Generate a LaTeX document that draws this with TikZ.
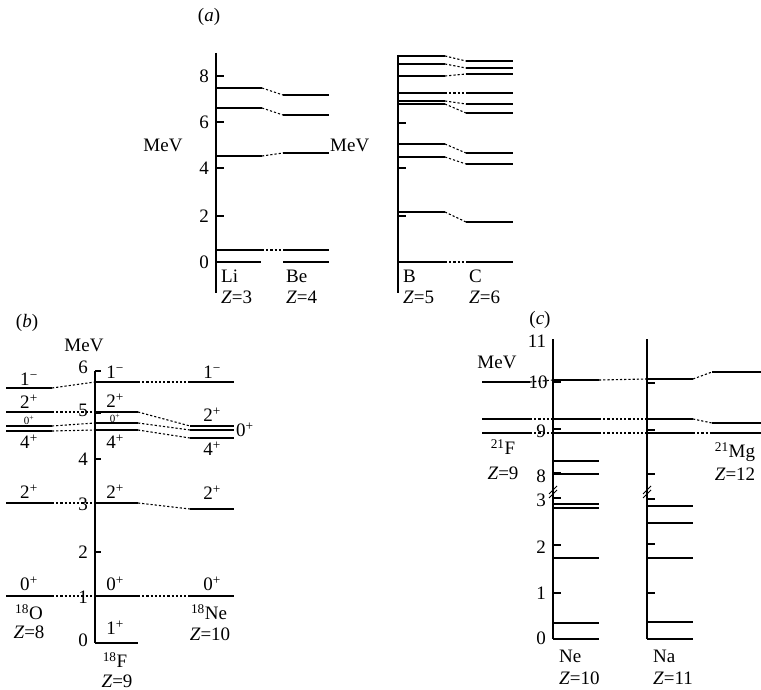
\documentclass[tikz,border=0pt]{standalone}
\usepackage{fontspec}
\setmainfont{Liberation Serif}
\newcommand{\lev}[4]{\coordinate (#1l) at (#2,#4); \coordinate (#1r) at (#3,#4); \draw[lvl] (#1l) -- (#1r);}
\newcommand{\mn}{\char"2212}
\begin{document}
\begin{tikzpicture}[x=1pt,y=-1pt,
 lvl/.style={line width=1.2pt},
 ax/.style={line width=1.3pt},
 con/.style={line width=1.1pt, dash pattern=on 2.2pt off 2pt},
 lab/.style={font=\fontsize{19}{19}\selectfont, inner sep=0pt},
 tinylab/.style={font=\fontsize{11}{11}\selectfont, inner sep=0pt}]
\useasboundingbox (0,0) rectangle (761,690);

% ---------------- (a) ----------------
\node[lab] (pa) at (209,17) {(\textit{a})};
\draw[ax] (216,53) -- (216,293);
\foreach \y in {76,122,168,216} \draw[ax] (216,\y) -- ++(8,0);
\node[lab,anchor=east] (a8) at (209,76) {8};
\node[lab,anchor=east] (a6) at (209,122) {6};
\node[lab,anchor=east] (a4) at (209,168) {4};
\node[lab,anchor=east] (a2) at (209,216) {2};
\node[lab,anchor=east] (a0) at (209,262) {0};
\node[lab] (mevl) at (163,145) {MeV};
\lev{lia}{216}{261}{262}
\lev{lib}{216}{262}{250}
\lev{lic}{216}{262}{156}
\lev{lid}{216}{262}{108}
\lev{lie}{216}{262}{88}
\lev{bea}{283}{329}{262}
\lev{beb}{283}{329}{250}
\lev{bec}{283}{329}{153}
\lev{bed}{283}{329}{115}
\lev{bee}{283}{329}{95}
\foreach \n in {b,c,d,e} \draw[con] (li\n r) -- (be\n l);
\node[lab,anchor=base west] (mevr) at (330,152) {MeV};
\node[lab,anchor=west] (li) at (221,276) {Li};
\node[lab,anchor=west] (z3) at (221,297) {\textit{Z}=3};
\node[lab,anchor=west] (be) at (286,276) {Be};
\node[lab,anchor=west] (z4) at (286,297) {\textit{Z}=4};

\draw[ax] (398,55) -- (398,293);
\foreach \y in {76,123,168,216} \draw[ax] (398,\y) -- ++(8,0);
\lev{ba}{398}{445}{262}
\lev{bb}{398}{445}{212}
\lev{bc}{398}{445}{157}
\lev{bd}{398}{445}{144}
\lev{bx}{398}{445}{104}
\lev{bf}{398}{445}{101}
\lev{bg}{398}{445}{93}
\lev{bh}{398}{445}{76}
\lev{bi}{398}{445}{64}
\lev{bj}{398}{445}{56}
\lev{ca}{466}{513}{262}
\lev{cb}{466}{513}{222}
\lev{cc}{466}{513}{164}
\lev{cd}{466}{513}{153}
\lev{cx}{466}{513}{113}
\lev{cf}{466}{513}{104}
\lev{cg}{466}{513}{93}
\lev{ch}{466}{513}{74}
\lev{ci}{466}{513}{68}
\lev{cj}{466}{513}{61}
\foreach \n in {a,b,c,d,x,f,g,h,i,j} \draw[con] (b\n r) -- (c\n l);
\node[lab,anchor=west] (bor) at (403,276) {B};
\node[lab,anchor=west] (z5) at (403,297) {\textit{Z}=5};
\node[lab,anchor=west] (car) at (469,276) {C};
\node[lab,anchor=west] (z6) at (469,297) {\textit{Z}=6};

% ---------------- (b) ----------------
\node[lab] (pb) at (27,323) {(\textit{b})};
\node[lab] (mevb) at (84,345) {MeV};
\draw[ax] (95,371) -- (95,643);
\foreach \y in {371,413,459,503,552,596} \draw[ax] (95,\y) -- ++(6,0);
\node[lab] (b6) at (83,367) {6};
\node[lab] (b5) at (83,410) {5};
\node[lab] (b4) at (83,459) {4};
\node[lab] (b3) at (83,504) {3};
\node[lab] (b2) at (83,552) {2};
\node[lab] (b1) at (83,597) {1};
\node[lab] (b0) at (83,640) {0};
% 18O
\lev{oa}{6}{52}{596}
\lev{ob}{6}{52}{503}
\lev{oc}{6}{52}{431}
\lev{od}{6}{52}{426}
\lev{oe}{6}{52}{412}
\lev{of}{6}{52}{388}
% 18F
\lev{fg}{95}{138}{643}
\lev{fa}{95}{138}{596}
\lev{fb}{95}{138}{503}
\lev{fc}{95}{138}{430}
\lev{fd}{95}{138}{423}
\lev{fe}{95}{138}{412}
\lev{ff}{95}{138}{382}
% 18Ne
\lev{na}{190}{234}{596}
\lev{nb}{190}{234}{509}
\lev{nc}{190}{234}{438}
\lev{nd}{190}{234}{430}
\lev{ne}{190}{234}{426}
\lev{nf}{190}{234}{382}
\foreach \n in {a,b,c,d,e,f} {\draw[con] (o\n r) -- (f\n l); \draw[con] (f\n r) -- (n\n l);}
% 18O labels
\node[lab] (o1m) at (29,379) {1\textsuperscript{\mn}};
\node[lab] (o2p) at (29,402) {2\textsuperscript{+}};
\node[tinylab] (o0p) at (29,420) {0\textsuperscript{+}};
\node[lab] (o4p) at (29,442) {4\textsuperscript{+}};
\node[lab] (o2pb) at (29,492) {2\textsuperscript{+}};
\node[lab] (o0pb) at (29,584) {0\textsuperscript{+}};
\node[lab] (o18) at (29,612) {\textsuperscript{18}O};
\node[lab] (z8) at (29,632) {\textit{Z}=8};
% 18F labels
\node[lab] (f1m) at (115,372) {1\textsuperscript{\mn}};
\node[lab] (f2p) at (115,401) {2\textsuperscript{+}};
\node[tinylab] (f0p) at (115,418) {0\textsuperscript{+}};
\node[lab] (f4p) at (115,442) {4\textsuperscript{+}};
\node[lab] (f2pb) at (115,492) {2\textsuperscript{+}};
\node[lab] (f0pb) at (115,584) {0\textsuperscript{+}};
\node[lab] (f1p) at (115,628) {1\textsuperscript{+}};
\node[lab] (f18) at (115,660) {\textsuperscript{18}F};
\node[lab] (z9) at (117,681) {\textit{Z}=9};
% 18Ne labels
\node[lab] (n1m) at (212,372) {1\textsuperscript{\mn}};
\node[lab] (n2p) at (212,415) {2\textsuperscript{+}};
\node[lab,anchor=west] (n0p) at (236,430) {0\textsuperscript{+}};
\node[lab] (n4p) at (212,449) {4\textsuperscript{+}};
\node[lab] (n2pb) at (212,493) {2\textsuperscript{+}};
\node[lab] (n0pb) at (212,584) {0\textsuperscript{+}};
\node[lab] (n18) at (209,612) {\textsuperscript{18}Ne};
\node[lab] (z10b) at (210,634) {\textit{Z}=10};

% ---------------- (c) ----------------
\node[lab] (pc) at (540,320) {(\textit{c})};
\node[lab] (mevc) at (497,362) {MeV};
\draw[ax] (553,339) -- (553,639);
\draw[ax] (647,339) -- (647,639);
\foreach \y in {382,429,473,498,545,593} \draw[ax] (553,\y) -- ++(8,0);
\foreach \y in {383,430,474,499,544,593} \draw[ax] (647,\y) -- ++(8,0);
\foreach \x in {553,647} {
  \draw[line width=0.9pt] (\x-4,494) -- (\x+4,486);
  \draw[line width=0.9pt] (\x-4,498) -- (\x+4,490);
}
\node[lab] (c11) at (537,341) {11};
\node[lab] (c10) at (538,382) {10};
\node[lab] (c9) at (541,431) {9};
\node[lab] (c8) at (541,476) {8};
\node[lab] (c3) at (541,500) {3};
\node[lab] (c2) at (541,547) {2};
\node[lab] (c1) at (541,593) {1};
\node[lab] (c0) at (541,638) {0};
% 21F
\lev{ta}{482}{530}{382}
\lev{tb}{482}{530}{419}
\lev{tc}{482}{530}{433}
% Ne
\lev{ea}{553}{599}{380}
\lev{eb}{553}{599}{419}
\lev{ec}{553}{599}{433}
\lev{ed}{553}{599}{461}
\lev{ee}{553}{599}{474}
\lev{ef}{553}{599}{504}
\lev{eg}{553}{599}{508}
\lev{eh}{553}{599}{558}
\lev{ei}{553}{599}{623}
\lev{ej}{553}{599}{639}
% Na
\lev{aa}{647}{693}{379}
\lev{ab}{647}{693}{419}
\lev{ac}{647}{693}{433}
\lev{af}{647}{693}{506}
\lev{ag}{647}{693}{523}
\lev{ah}{647}{693}{558}
\lev{ai}{647}{693}{622}
\lev{aj}{647}{693}{639}
% Mg
\lev{ma}{712}{761}{372}
\lev{mb}{712}{761}{423}
\lev{mc}{712}{761}{433}
\foreach \n in {a,b,c} {\draw[con] (t\n r) -- (e\n l); \draw[con] (e\n r) -- (a\n l); \draw[con] (a\n r) -- (m\n l);}
\node[lab] (f21) at (503,447) {\textsuperscript{21}F};
\node[lab] (z9c) at (503,473) {\textit{Z}=9};
\node[lab] (mg21) at (735,452) {\textsuperscript{21}Mg};
\node[lab] (z12) at (735,474) {\textit{Z}=12};
\node[lab,anchor=west] (nel) at (559,656) {Ne};
\node[lab,anchor=west] (z10c) at (559,678) {\textit{Z}=10};
\node[lab,anchor=west] (nal) at (653,656) {Na};
\node[lab,anchor=west] (z11) at (653,678) {\textit{Z}=11};
\end{tikzpicture}
\end{document}
